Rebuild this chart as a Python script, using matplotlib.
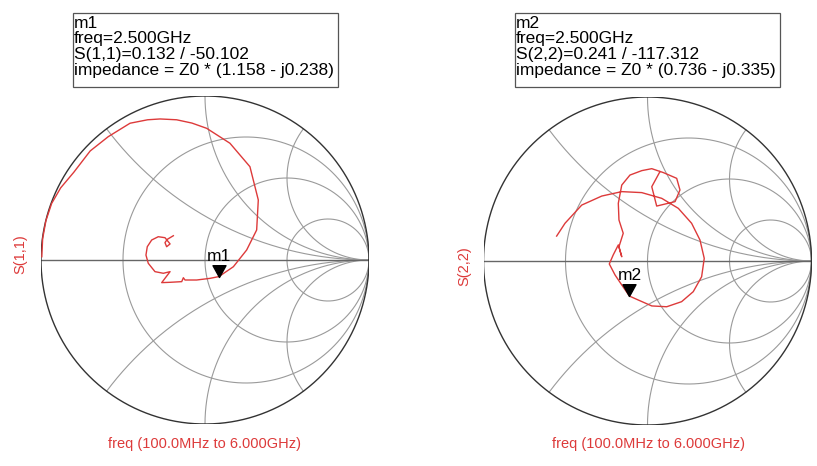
import numpy as np
import matplotlib
matplotlib.use("Agg")
import matplotlib.pyplot as plt
from matplotlib.path import Path

plt.rcParams['font.family'] = ['Liberation Sans', 'DejaVu Sans']

# S(1,1) trace, reflection coefficient (real, imag), 100 MHz -> 6 GHz
s11_re = [-0.995, -0.99, -0.97, -0.935, -0.88, -0.80, -0.70, -0.59, -0.457, -0.35,
          -0.274, -0.173, -0.08, 0.010, 0.152, 0.274, 0.325, 0.315, 0.254, 0.173,
          0.085, 0.030, -0.051, -0.122, -0.132, -0.142, -0.213, -0.264, -0.213, -0.254,
          -0.305, -0.346, -0.360, -0.352, -0.325, -0.285, -0.244, -0.213, -0.234, -0.244,
          -0.230, -0.193]
s11_im = [0.020, 0.13, 0.24, 0.345, 0.44, 0.535, 0.665, 0.752, 0.834, 0.855,
          0.860, 0.855, 0.835, 0.803, 0.712, 0.569, 0.366, 0.183, 0.061, -0.041,
          -0.101, -0.112, -0.122, -0.122, -0.108, -0.132, -0.136, -0.138, -0.071, -0.081,
          -0.071, -0.020, 0.030, 0.081, 0.122, 0.142, 0.136, 0.098, 0.081, 0.106,
          0.126, 0.148]

# S(2,2) trace
s22_re = [-0.554, -0.503, -0.401, -0.279, -0.157, -0.035, 0.087, 0.188, 0.269, 0.320,
          0.346, 0.330, 0.279, 0.208, 0.117, 0.026, -0.056, -0.110, -0.157, -0.198,
          -0.233, -0.209, -0.178, -0.157, -0.174, -0.148, -0.174, -0.178, -0.157, -0.107,
          -0.035, 0.026, 0.097, 0.178, 0.198, 0.168, 0.056, 0.026, 0.076]
s22_im = [0.152, 0.230, 0.341, 0.396, 0.423, 0.417, 0.382, 0.321, 0.230, 0.128,
          0.016, -0.096, -0.187, -0.248, -0.279, -0.274, -0.238, -0.214, -0.146, -0.085,
          -0.018, 0.037, 0.098, 0.026, 0.087, 0.169, 0.250, 0.352, 0.463, 0.524,
          0.551, 0.563, 0.539, 0.504, 0.433, 0.362, 0.335, 0.453, 0.545]

# marker readouts
m1_mag, m1_ang = 0.132, -50.102
m2_mag, m2_ang = 0.241, -117.312
m1_lines = ["m1", "freq=2.500GHz", "S(1,1)=0.132 / -50.102",
            "impedance = Z0 * (1.158 - j0.238)"]
m2_lines = ["m2", "freq=2.500GHz", "S(2,2)=0.241 / -117.312",
            "impedance = Z0 * (0.736 - j0.335)"]

r_circles = [1 / 3, 1, 3]
x_arcs = [0.5, 1, 2]

RED = '#dd3a3a'
W, H = 817, 466

fig = plt.figure(figsize=(W / 100, H / 100), dpi=100)

# triangle marker with its tip at the data point
tri = Path([(0, 0), (-0.55, 1.0), (0.55, 1.0), (0, 0)],
           [Path.MOVETO, Path.LINETO, Path.LINETO, Path.CLOSEPOLY])


def smith_axes(cx, cy, rad):
    ax = fig.add_axes([(cx - rad) / W, (H - cy - rad) / H, 2 * rad / W, 2 * rad / H])
    ax.set_xlim(-1, 1)
    ax.set_ylim(-1, 1)
    ax.axis('off')
    t = np.linspace(0, 2 * np.pi, 500)
    # resistance circles
    for r in r_circles:
        c, rr = r / (1 + r), 1 / (1 + r)
        ax.plot(c + rr * np.cos(t), rr * np.sin(t), color='#9a9a9a', lw=0.8, zorder=1)
    # reactance arcs
    rv = np.tan(np.linspace(0, np.pi / 2, 600)[:-1])
    for x in x_arcs:
        for s in (1, -1):
            z = rv + 1j * s * x
            g = (z - 1) / (z + 1)
            g = np.append(g, 1 + 0j)
            ax.plot(g.real, g.imag, color='#9a9a9a', lw=0.8, zorder=1)
    ax.plot([-1, 1], [0, 0], color='#666666', lw=1.0, zorder=1)
    ax.plot(np.cos(t), np.sin(t), color='#333333', lw=1.0, zorder=2)
    return ax


def marker_box(x0, y0, x1, y1, lines):
    fig.patches.append(plt.Rectangle((x0 / W, 1 - y1 / H), (x1 - x0) / W, (y1 - y0) / H,
                                     transform=fig.transFigure, fill=False,
                                     edgecolor='#555555', lw=0.9))
    for i, s in enumerate(lines):
        fig.text((x0 + 0.5) / W, 1 - (y0 + 10 + 16 * i) / H, s, fontsize=12.5,
                 va='center', ha='left', color='black')


def draw_marker(ax, mag, ang, name):
    g = mag * np.exp(1j * np.deg2rad(ang))
    ax.plot([g.real], [g.imag], marker=tri, markersize=17, color='black',
            linestyle='none', zorder=5)
    ax.annotate(name, (g.real, g.imag), xytext=(-12, 13), textcoords='offset pixels',
                fontsize=12.5, ha='left', va='bottom', color='black')


# left chart
ax1 = smith_axes(205, 260, 164)
ax1.plot(s11_re, s11_im, color=RED, lw=1.0, zorder=4)
draw_marker(ax1, m1_mag, m1_ang, "m1")
fig.text(20 / W, 1 - 254 / H, "S(1,1)", rotation=90, color=RED, fontsize=10.5,
         ha='center', va='center')
fig.text(204 / W, 1 - 444 / H, "freq (100.0MHz to 6.000GHz)", color=RED, fontsize=10.5,
         ha='center', va='center')
marker_box(73, 13, 338, 87, m1_lines)

# right chart
ax2 = smith_axes(647.5, 261, 164)
ax2.plot(s22_re, s22_im, color=RED, lw=1.0, zorder=4)
draw_marker(ax2, m2_mag, m2_ang, "m2")
fig.text(464 / W, 1 - 266 / H, "S(2,2)", rotation=90, color=RED, fontsize=10.5,
         ha='center', va='center')
fig.text(648 / W, 1 - 444 / H, "freq (100.0MHz to 6.000GHz)", color=RED, fontsize=10.5,
         ha='center', va='center')
marker_box(515, 13, 780, 87, m2_lines)

fig.savefig("out.png", dpi=100)
